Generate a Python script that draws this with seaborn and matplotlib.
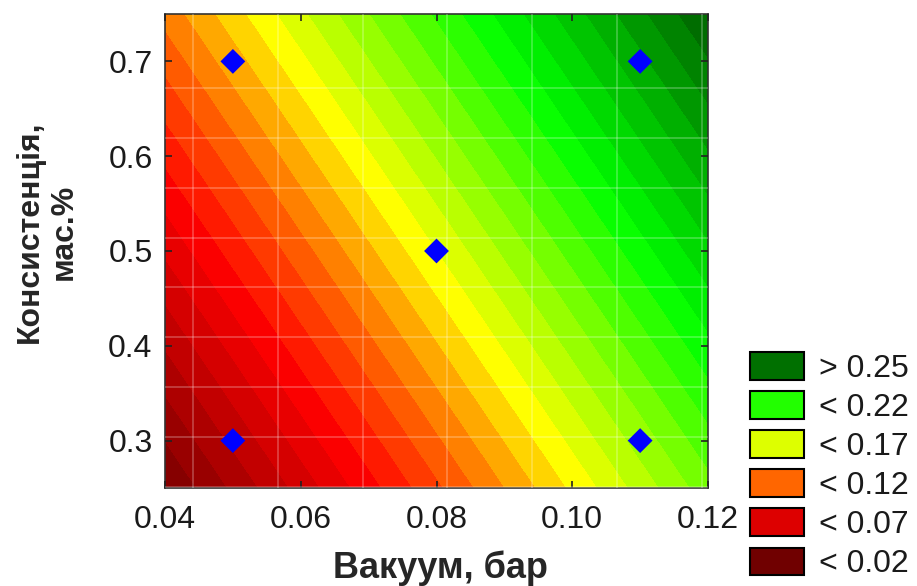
import numpy as np
import pandas as pd
import matplotlib
matplotlib.use("Agg")
import matplotlib.pyplot as plt
import seaborn as sns
from matplotlib.colors import LinearSegmentedColormap
from matplotlib.patches import Patch

# ---- data ----
vacuum = [0.05, 0.05, 0.08, 0.11, 0.11]          # bar
consistency = [0.30, 0.70, 0.50, 0.30, 0.70]     # mass %
response = [0.032, 0.115, 0.140, 0.164, 0.247]
x_ticks = [0.04, 0.06, 0.08, 0.10, 0.12]
x_tick_labels = ["0.04", "0.06", "0.08", "0.10", "0.12"]
y_ticks = [0.3, 0.4, 0.5, 0.6, 0.7]
y_tick_labels = ["0.3", "0.4", "0.5", "0.6", "0.7"]
legend_labels = ["> 0.25", "< 0.22", "< 0.17", "< 0.12", "< 0.07", "< 0.02"]
legend_colors = ["#007000", "#22FF00", "#DDFF00", "#FF6600", "#DD0000", "#700000"]

sns.set_style("ticks")
plt.rcParams["font.family"] = ["Liberation Sans", "DejaVu Sans"]

df = pd.DataFrame({"vacuum": vacuum, "consistency": consistency, "response": response})

# linear response surface fitted to the design points
A = np.column_stack([np.ones(len(df)), df["vacuum"], df["consistency"]])
coef, *_ = np.linalg.lstsq(A, df["response"].to_numpy(), rcond=None)
gx = np.linspace(0.04, 0.12, 300)
gy = np.linspace(0.25, 0.75, 300)
GX, GY = np.meshgrid(gx, gy)
GZ = coef[0] + coef[1] * GX + coef[2] * GY

vmax = 0.28
anchors = [(0.0, "#7E0000"), (0.067, "#FF0000"), (0.109, "#FF8C00"),
           (0.135, "#FFFF00"), (0.208, "#00FF00"), (0.28, "#006400")]
cmap = LinearSegmentedColormap.from_list("surf", [(v / vmax, c) for v, c in anchors])

fig = plt.figure(figsize=(9.17, 5.86), dpi=100)
ax = fig.add_axes([165 / 917, 1 - 488 / 586, 543 / 917, 474 / 586])

levels = np.arange(-0.01, 0.30, 0.01)
ax.contourf(GX, GY, GZ, levels=levels, cmap=cmap, vmin=0, vmax=vmax, zorder=1)

sns.scatterplot(data=df, x="vacuum", y="consistency", ax=ax, marker="D",
                s=160, color="#0000FF", edgecolor="none", zorder=5, legend=False)

ax.set_xlim(0.04, 0.12)
ax.set_ylim(0.25, 0.75)
ax.set_xticks(x_ticks)
ax.set_xticklabels(x_tick_labels)
ax.set_yticks(y_ticks)
ax.set_yticklabels(y_tick_labels)
ax.set_xticks(np.arange(0.0441, 0.12, 0.0125), minor=True)
ax.set_yticks(np.arange(0.672, 0.25, -0.0526), minor=True)
ax.tick_params(which="major", direction="in", top=True, right=True, length=5,
               width=1.2, labelsize=23, color="#222222", labelcolor="#1a1a1a")
ax.tick_params(axis="x", which="major", pad=12)
ax.tick_params(axis="y", which="major", pad=9)
ax.tick_params(which="minor", length=0)
ax.set_axisbelow(False)
ax.grid(False)
ax.grid(True, which="minor", color="white", alpha=0.28, linewidth=1.2)
for sp in ax.spines.values():
    sp.set_color("#333333")
    sp.set_linewidth(1.2)

ax.set_xlabel("Вакуум, бар", fontsize=26, fontweight="bold")
ax.xaxis.set_label_coords(0.507, -0.132)
ax.set_ylabel("Консистенція,\nмас.%", fontsize=23, fontweight="bold", linespacing=1.2)
ax.yaxis.set_label_coords(-0.158, 0.54)

handles = [Patch(facecolor=c, edgecolor="black", linewidth=1.5) for c in legend_colors]
fig.legend(handles, legend_labels, loc="upper left", bbox_to_anchor=(750 / 917, 1 - 352 / 586),
           frameon=False, fontsize=23, handlelength=1.7, handleheight=0.95,
           labelspacing=0.23, handletextpad=0.45, borderpad=0, borderaxespad=0,
           labelcolor="#1a1a1a")

fig.savefig("out.png", dpi=100)
